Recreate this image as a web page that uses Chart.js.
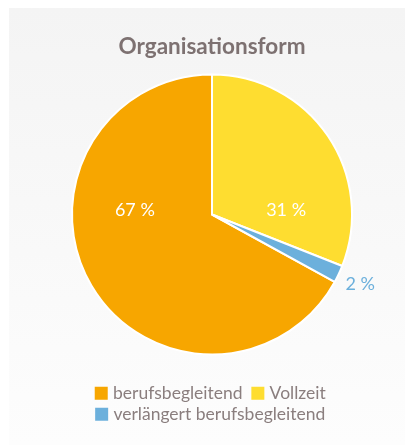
<!DOCTYPE html>
<html>
<head>
<meta charset="utf-8">
<script src="https://cdn.jsdelivr.net/npm/chart.js@4"></script>
<style>
    html, body { margin: 0; padding: 0; background: #fff; overflow: hidden; }
    #card {
        position: absolute; left: 9px; top: 8px; width: 406px; height: 437px;
        background: linear-gradient(#f4f4f4, #fdfdfd);
    }
</style>
</head>
<body>
<div id="card"><canvas id="pie"></canvas></div>
<script>
// Organisationsform – Anteile in Prozent
const categories = ['berufsbegleitend', 'Vollzeit', 'verlängert berufsbegleitend'];
const shares = [67, 31, 2];
const colors = ['#f7a600', '#fedd30', '#6cb0dc'];

const FONT = 'Lato, "Noto Sans", sans-serif';
const TEXT_COLOR = '#8a7e7e';

// first slice starts where the other two end (they run clockwise from 12 o'clock)
const total = shares.reduce((a, b) => a + b, 0);
const rotation = (total - shares[0]) / total * 360;

const sliceLabels = {
    id: 'sliceLabels',
    afterDatasetsDraw(chart) {
        const ctx = chart.ctx;
        const meta = chart.getDatasetMeta(0);
        ctx.save();
        ctx.font = '18px ' + FONT;
        ctx.textAlign = 'center';
        ctx.textBaseline = 'middle';
        meta.data.forEach((arc, i) => {
            const p = arc.getProps(['x', 'y', 'startAngle', 'endAngle', 'outerRadius'], true);
            const mid = (p.startAngle + p.endAngle) / 2;
            const text = shares[i] + ' %';
            if (shares[i] < 5) {
                const r = p.outerRadius * 1.17;
                ctx.fillStyle = colors[i];
                ctx.fillText(text, p.x + r * Math.cos(mid), p.y + r * Math.sin(mid));
            } else {
                ctx.fillStyle = '#ffffff';
                ctx.fillText(text, p.x + 0.64 * p.outerRadius * Math.cos(mid), p.y - 4);
            }
        });
        ctx.restore();
    }
};

new Chart(document.getElementById('pie'), {
    type: 'pie',
    data: {
        labels: categories,
        datasets: [{
            data: shares,
            backgroundColor: colors,
            borderColor: '#ffffff',
            borderWidth: 2
        }]
    },
    options: {
        responsive: true,
        maintainAspectRatio: false,
        animation: false,
        rotation: rotation,
        layout: { padding: { bottom: 12 } },
        plugins: {
            title: {
                display: true,
                text: 'Organisationsform',
                color: '#7d7171',
                font: { family: FONT, size: 22.5, weight: 'bold' },
                padding: { top: 25, bottom: 13.5 }
            },
            legend: {
                position: 'bottom',
                title: {
                    display: true,
                    text: ' ',
                    font: { size: 10 },
                    padding: { top: 0, bottom: 13.5 }
                },
                labels: {
                    usePointStyle: true,
                    pointStyle: 'rect',
                    boxWidth: 6,
                    boxHeight: 13,
                    padding: 3.5,
                    color: TEXT_COLOR,
                    font: { family: FONT, size: 17.5 },
                    generateLabels(chart) {
                        return categories.map((c, i) => ({
                            text: i === 0 ? c + '\u2002' : c,
                            fillStyle: colors[i],
                            strokeStyle: colors[i],
                            lineWidth: 0,
                            pointStyle: 'rect',
                            fontColor: TEXT_COLOR,
                            hidden: false,
                            index: i
                        }));
                    }
                }
            },
            tooltip: { enabled: false }
        }
    },
    plugins: [sliceLabels]
});
</script>
</body>
</html>
